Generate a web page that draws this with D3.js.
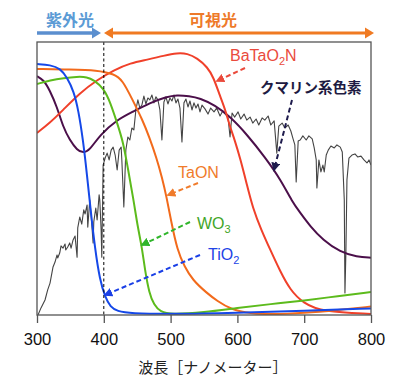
<!DOCTYPE html>
<html><head><meta charset="utf-8">
<script src="https://cdn.jsdelivr.net/npm/d3@7"></script>
<style>body{margin:0;background:#fff}svg{display:block}</style>
</head><body><svg id="c" width="400" height="387"></svg>
<script>
// ---- data (wavelength nm, relative value 0-100) ----
const xTicks = [300, 400, 500, 600, 700, 800];
const solar = [[301.5,0],[306,2.6],[312,5.5],[316,9.2],[319.5,11.7],[324,17.6],[327,19.4],[330,22],[331,20.9],[334,22.7],[336,25.3],[339,24.5],[342,26],[343,23.8],[346,24.9],[349,26.4],[351,24.5],[354,27.5],[357,28.9],[360,21.2],[361,31.9],[364,35.9],[367,33.3],[370,38.5],[372,37],[375,40.3],[376,32.2],[379,42.1],[381,36.6],[384,26.4],[385,34.1],[388,39.2],[390,34.8],[393,44],[394,42.1],[396,31.1],[397,21.2],[399,54.9],[402,57.5],[405,59.3],[408,56.8],[411,60.4],[414,61.5],[417,58.6],[420,53.1],[423,60.4],[426,61.5],[427,56.8],[430,39.6],[433,60.4],[436,65.2],[439,64.1],[442,68.5],[445,67.8],[448,75.1],[451,78.8],[454,75.8],[457,76.9],[460,80.2],[463,77.3],[466,79.5],[469,78.8],[472,80.6],[475,77.7],[478,79.9],[481,78.8],[484,75.1],[487,64.1],[490,78],[493,79.9],[496,77.3],[499,79.5],[502,78.4],[505,80.6],[508,77.7],[511,79.1],[514,75.8],[517,63.4],[520,77.7],[523,79.1],[526,76.2],[529,78.4],[532,75.1],[535,77.7],[538,75.8],[541,77.3],[544,74.4],[547,76.9],[551.5,75.5],[556,73.6],[560,75.8],[565,74.4],[569,75.8],[574,72.9],[578,74.7],[583,73.3],[586,72.2],[589,65.2],[592,74],[596,72.5],[601,74.4],[605,71.8],[610,73.6],[614,71.4],[619,72.5],[623,70.3],[628,71.8],[632,69.6],[637,72.2],[641,71.4],[646,72.9],[650,69.6],[655,71.1],[659,59.3],[662,69.2],[667,70.3],[671,68.5],[676,69.6],[680,67.4],[683,64.8],[686,62.3],[688,48.7],[691,63.7],[694,64.1],[698,65.6],[703,64.1],[707,65.6],[712,64.5],[715,61.2],[718,56.8],[719,46.5],[722,56.8],[725,52.4],[728,54.9],[730,52.4],[733,58.6],[736,60.4],[740,61.9],[745,61.2],[749,62.3],[754,61.5],[757,59.7],[760,42.1],[761,8.1],[762.5,23.8],[764,49.5],[767,57.5],[771.5,58.6],[776,59],[780,57.9],[785,58.2],[789.5,56.8],[794,55.7],[797,56.8],[800,54.9]];
const tio2 = [[300,91.9],[320,91.6],[335,90.3],[345,87],[355,82],[362,75],[369,64],[375,51],[380,39],[387,24],[394,13],[402,6.5],[410,2.9],[420,1.4],[440,0.6],[500,0.3],[600,0.8],[700,1.5],[800,2.4]];
const wo3 = [[300,84.6],[320,86],[340,86.8],[360,87.3],[375,87.2],[385,86.1],[400,83],[410,77.7],[420,70.3],[429,63.4],[436,53.8],[444,42.9],[451,31.9],[457,25],[462,15.8],[468,8.1],[475,3.7],[485,1.1],[500,0.2],[550,0.9],[600,2.6],[650,4],[700,5.3],[750,6.9],[800,8.4]];
const taon = [[300,90.1],[350,89.9],[390,89.7],[415,88.3],[428,86.1],[443,78.8],[458,71.4],[468,65.2],[479,57.5],[487,50.5],[494,43.2],[501,34.1],[510,23.8],[521,17.6],[533,12.8],[554,8.1],[570,5.1],[589,2.2],[620,0.5],[650,0.2],[700,0.7],[750,1.8],[800,3.1]];
const batao2n = [[300,66.7],[319,70.3],[339,75.1],[364,81.3],[390,86.1],[415,89.7],[440,92.3],[465,93.5],[490,95],[510,96],[525,95.8],[540,94.1],[555,90.8],[564,87.2],[574,80.2],[582,75.1],[589,68.9],[596,64.1],[604,57.5],[614,48],[623,39.2],[636,31],[649,24],[664,16],[679,9.2],[698,4.4],[728,1.1],[800,0.4]];
const coumarin = [[300,87.5],[310,86.1],[319,82.4],[330,76.2],[339,68.9],[349,64.1],[360,60.4],[369,59.3],[379,60.4],[394,65.9],[419,71.4],[443,74.4],[469,77.7],[494,79.9],[509,80.6],[528,80.2],[544,79.4],[566,76.9],[590,72.5],[615,65.9],[641,57.9],[665,49.5],[682,41.5],[694,37.5],[709,32.5],[728,27.5],[754,23],[779,21.3],[800,21]];

// ---- drawing ----
const svg = d3.select('#c');
const x = d3.scaleLinear().domain([300, 800]).range([37, 371]);
const y = d3.scaleLinear().domain([0, 100]).range([315, 42]);
const LAT = "'Liberation Sans', Arial, Helvetica, sans-serif";
const JP = "'Noto Sans CJK JP', 'Noto Sans', sans-serif";

const defs = svg.append('defs');
defs.append('clipPath').attr('id','clip').append('rect')
  .attr('x',37).attr('y',42).attr('width',334).attr('height',273);

function marker(id, color){
  defs.append('marker').attr('id',id).attr('viewBox','0 0 10 10')
    .attr('refX',8).attr('refY',5).attr('markerWidth',9).attr('markerHeight',9)
    .attr('markerUnits','userSpaceOnUse').attr('orient','auto')
    .append('path').attr('d','M0,0 L10,5 L0,10 z').attr('fill',color);
}

const g = svg.append('g').attr('clip-path','url(#clip)');
const lineLin = d3.line().x(d=>x(d[0])).y(d=>y(d[1]));
const lineSm = d3.line().x(d=>x(d[0])).y(d=>y(d[1])).curve(d3.curveBasis);

g.append('path').datum(solar).attr('d',lineLin).attr('fill','none')
  .attr('stroke','#444').attr('stroke-width',1.1).attr('stroke-linejoin','round');

// vertical 400nm dashed line
svg.append('line').attr('x1',x(400)).attr('x2',x(400)).attr('y1',y(100)).attr('y2',y(0))
  .attr('stroke','#000').attr('stroke-width',1).attr('stroke-dasharray','3,2.5');

const curves = [
  {d: coumarin, c:'#4b0f4a'},
  {d: batao2n, c:'#f0402a'},
  {d: taon, c:'#f26a1b'},
  {d: wo3, c:'#5cbb1c'},
  {d: tio2, c:'#1548e8'}
];
curves.forEach(s=>{
  g.append('path').datum(s.d).attr('d',lineSm).attr('fill','none')
   .attr('stroke',s.c).attr('stroke-width',2);
});

// frame
svg.append('rect').attr('x',37).attr('y',42).attr('width',334).attr('height',273)
  .attr('fill','none').attr('stroke','#555').attr('stroke-width',1.3);

// x axis
const ax = svg.append('g').attr('transform','translate(0,315)')
  .call(d3.axisBottom(x).tickValues(xTicks).tickSize(8).tickPadding(10).tickFormat(d3.format('d')));
ax.select('.domain').remove();
ax.selectAll('.tick line').attr('stroke','#555').attr('stroke-width',1.3);
ax.selectAll('.tick text').attr('font-family',LAT).attr('font-size',16.5).attr('fill','#111');

svg.append('text').attr('x',213).attr('y',373).attr('text-anchor','middle')
  .attr('font-family',JP).attr('font-size',15).attr('fill','#222').text('波長［ナノメーター］');

// top labels & arrows
svg.append('text').attr('x',70).attr('y',26).attr('text-anchor','middle')
  .attr('font-family',JP).attr('font-weight','bold').attr('font-size',16).attr('fill','#5b9bd5').text('紫外光');
svg.append('text').attr('x',213).attr('y',26).attr('text-anchor','middle')
  .attr('font-family',JP).attr('font-weight','bold').attr('font-size',16).attr('fill','#ee7a2a').text('可視光');

svg.append('line').attr('x1',37).attr('x2',93).attr('y1',33).attr('y2',33)
  .attr('stroke','#5b8fcf').attr('stroke-width',3.5);
svg.append('path').attr('d','M92,27.5 L101,33 L92,38.5 Z').attr('fill','#5b8fcf');
svg.append('line').attr('x1',112).attr('x2',366).attr('y1',33).attr('y2',33)
  .attr('stroke','#f07a22').attr('stroke-width',3);
svg.append('path').attr('d','M113,27.5 L104,33 L113,38.5 Z').attr('fill','#f07a22');
svg.append('path').attr('d','M365,27.5 L374,33 L365,38.5 Z').attr('fill','#f07a22');

// series labels
function label(xp, yp, parts, color, opts={}){
  const t = svg.append('text').attr('x',xp).attr('y',yp)
    .attr('font-family',opts.font||LAT).attr('font-size',opts.size||16)
    .attr('font-weight',opts.weight||'normal').attr('fill',color);
  parts.forEach(p=>{
    if(p.sub){
      t.append('tspan').attr('font-size',11).attr('dy',4).text(p.t);
    } else {
      t.append('tspan').attr('dy',p.up?-4:0).text(p.t);
    }
  });
}
label(230, 61, [{t:'BaTaO'},{t:'2',sub:true},{t:'N',up:true}], '#ea4a3c');
label(260, 93, [{t:'クマリン系色素'}], '#1e1b42', {font:JP, size:14.5, weight:'bold'});
label(178, 178, [{t:'TaON'}], '#f07b2b');
label(197, 229, [{t:'WO'},{t:'3',sub:true}], '#42a528');
label(208, 260, [{t:'TiO'},{t:'2',sub:true}], '#2143e6');

// dashed annotation arrows
const arrows = [
  {id:'mb', c:'#ea4a3c', p:[245,68,217,81]},
  {id:'mc', c:'#1e1b4d', p:[292,100,274,170]},
  {id:'mt', c:'#f07b2b', p:[198,183,168,195]},
  {id:'mw', c:'#2fb52a', p:[190,222,142,245]},
  {id:'mi', c:'#1a3fe6', p:[200,255,105,295]}
];
arrows.forEach(a=>{
  marker(a.id, a.c);
  svg.append('line').attr('x1',a.p[0]).attr('y1',a.p[1]).attr('x2',a.p[2]).attr('y2',a.p[3])
    .attr('stroke',a.c).attr('stroke-width',2).attr('stroke-dasharray','5,3')
    .attr('marker-end','url(#'+a.id+')');
});
</script></body></html>
